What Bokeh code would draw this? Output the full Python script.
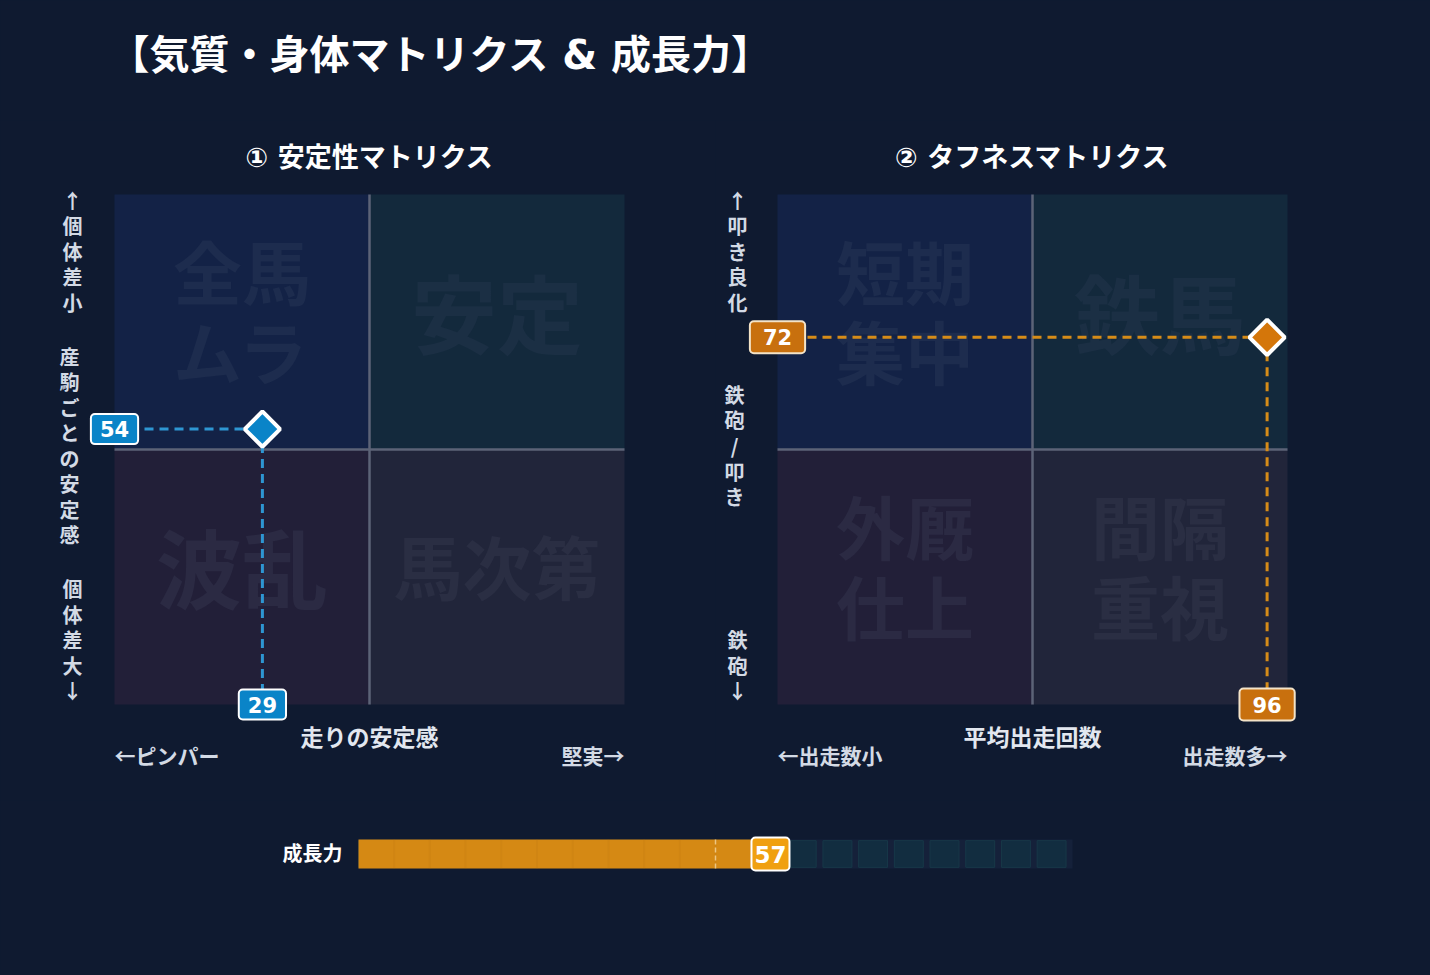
from bokeh.plotting import figure
from bokeh.layouts import column, row
from bokeh.models import Range1d, ColumnDataSource
from bokeh.core.properties import value
from bokeh.embed import file_html
from bokeh.resources import INLINE
import numpy as np

# ---------------- data ----------------
title_text = "【気質・身体マトリクス & 成長力】"
matrix_titles = ["① 安定性マトリクス", "② タフネスマトリクス"]

stab_point = {"x": 29, "y": 54}
tough_point = {"x": 96, "y": 72}

stab_quad_labels = ["全馬\nムラ", "安定", "波乱", "馬次第"]      # TL, TR, BL, BR
tough_quad_labels = ["短期\n集中", "鉄馬", "外厩\n仕上", "間隔\n重視"]

stab_x_labels = ["走りの安定感", "←ピンパー", "堅実→"]
tough_x_labels = ["平均出走回数", "←出走数小", "出走数多→"]
stab_y_labels = ["↑個体差小", "産駒ごとの安定感", "個体差大↓"]
tough_y_labels = ["↑叩き良化", "鉄砲/叩き", "鉄砲↓"]

growth_label = "成長力"
growth_value = 57
growth_avg = 50
growth_segments = 20

# ---------------- style ----------------
BG = "#0f1a30"
FONT = value("DejaVu Sans, 'Noto Sans CJK JP'")
CJK = value("'Noto Sans CJK JP'")
NUM = value("DejaVu Sans")
QUAD_FILL = ["#132246", "#13293c", "#221f38", "#21253a"]
QUAD_TEXT = ["#1d2c4e", "#1b2f44", "#2b2a43", "#2a2e43"]
LABEL_COL = "#d3dae5"
STY = {"background-color": BG, "border": "none", "margin": "0", "padding": "0"}

W_PAGE = 1430
TITLE_H = 120
ROW_H = 680
GROWTH_H = 975 - TITLE_H - ROW_H
PLOT_PX = 510
PLOT_TOP = 74


def base_fig(w, h, xr, yr):
    p = figure(width=w, height=h, x_range=xr, y_range=yr, title=None,
               x_axis_type=None, y_axis_type=None, toolbar_location=None,
               output_backend="svg", min_border=0, outline_line_color=None,
               background_fill_color=BG, border_fill_color=BG, styles=STY)
    return p


def vlabel(s):
    return "\n".join(list(s))


def make_matrix(w, plot_left, sub, point, quad_labels, xlabels, ylabels,
                mark_fill, guide_col, box_fill, box_border, box_pad, ylab_dx):
    k = PLOT_PX / 100.0
    xr = Range1d(-plot_left / k, (w - plot_left) / k)
    yr = Range1d(-(ROW_H - PLOT_TOP - PLOT_PX) / k, 100 + PLOT_TOP / k)
    p = base_fig(w, ROW_H, xr, yr)

    qs = ColumnDataSource(dict(
        left=[0, 50, 0, 50], right=[50, 100, 50, 100],
        bottom=[50, 50, 0, 0], top=[100, 100, 50, 50],
        fill=QUAD_FILL, cx=[25, 75, 25, 75], cy=[75, 75, 25, 25],
        label=quad_labels, tcol=QUAD_TEXT,
        size=["69px" if ("\n" in l or len(l) > 2) else "86px" for l in quad_labels],
    ))
    p.quad(left="left", right="right", bottom="bottom", top="top",
           fill_color="fill", line_color=None, source=qs)
    p.text(x="cx", y="cy", text="label", text_color="tcol", text_font=CJK,
           text_font_style="bold", text_font_size="size", text_align="center",
           text_baseline="middle", text_line_height=0.8, y_offset=-12, source=qs)

    # mid lines
    p.segment(x0=[50, 0], y0=[0, 50], x1=[50, 100], y1=[100, 50],
              line_color="#5c6377", line_width=2.5)

    px, py = point["x"], point["y"]
    # guides
    p.segment(x0=[0, px], y0=[py, py], x1=[px, px], y1=[py, 0],
              line_color=guide_col, line_width=3, line_dash="9 6")
    p.scatter(x=[px], y=[py], marker="square", angle=np.pi / 4, size=25,
              fill_color=mark_fill, line_color="white", line_width=4)

    # value boxes
    p.text(x=[0, px], y=[py, 0], text=[str(py), str(px)], text_align="center",
           text_baseline="middle", text_font=NUM, text_font_style="bold",
           text_font_size="21px", text_color="white",
           background_fill_color=box_fill, border_line_color=box_border,
           border_line_width=2, border_radius=4, padding=box_pad)

    # subtitle
    p.text(x=[50], y=[100], text=[sub], y_offset=-37, text_align="center",
           text_baseline="middle", text_font=FONT, text_font_style="bold",
           text_font_size="27px", text_color="white")

    # x labels
    p.text(x=[50], y=[0], text=[xlabels[0]], y_offset=31, text_align="center",
           text_baseline="middle", text_font=CJK, text_font_style="bold",
           text_font_size="23px", text_color="#e2e7ef")
    p.text(x=[0, 100], y=[0, 0], text=xlabels[1:], y_offset=50,
           text_align=["left", "right"], text_baseline="middle", text_font=CJK,
           text_font_style="bold", text_font_size="21px", text_color=LABEL_COL)

    # y labels (stacked vertical)
    common = dict(text_align="center", text_font=CJK, text_font_style="bold",
                  text_font_size="20px", text_color=LABEL_COL, text_line_height=0.88)
    p.text(x=[0], y=[100], text=[vlabel(ylabels[0])], x_offset=ylab_dx,
           y_offset=-9, text_baseline="top", **common)
    p.text(x=[0], y=[50], text=[vlabel(ylabels[1])], x_offset=ylab_dx - 3,
           y_offset=-4, text_baseline="middle", **common)
    p.text(x=[0], y=[0], text=[vlabel(ylabels[2])], x_offset=ylab_dx,
           y_offset=1, text_baseline="bottom", **common)
    return p


# ---------------- title ----------------
pt = base_fig(W_PAGE, TITLE_H, Range1d(0, W_PAGE), Range1d(TITLE_H, 0))
pt.text(x=[109], y=[54], text=[title_text], text_align="left",
        text_baseline="middle", text_font=FONT, text_font_style="bold",
        text_font_size="40px", text_color="white")

# ---------------- matrices ----------------
left = make_matrix(715, 114, matrix_titles[0], stab_point, stab_quad_labels,
                   stab_x_labels, stab_y_labels, "#0a84c8", "#2e96d2",
                   "#0a84c8", "#ffffff", (9, 7), -42)
right = make_matrix(715, 62, matrix_titles[1], tough_point, tough_quad_labels,
                    tough_x_labels, tough_y_labels, "#d4760a", "#d68c18",
                    "#c8700e", "#f3e3c8", (13, 8), -40)

# ---------------- growth bar ----------------
GX0, GX1 = 358, 1072
kx = (GX1 - GX0) / 100.0
BAR_H = 29
BAR_CY = 53.5
gxr = Range1d(-GX0 / kx, (W_PAGE - GX0) / kx)
gyr = Range1d(-(GROWTH_H - BAR_CY) / BAR_H, BAR_CY / BAR_H)
pg = base_fig(W_PAGE, GROWTH_H, gxr, gyr)

seg_w = 100.0 / growth_segments
seg_left = np.arange(growth_segments) * seg_w
pg.quad(left=[0], right=[100], bottom=[-0.5], top=[0.5], fill_color="#15213a",
        line_color=None)
pg.quad(left=seg_left + 0.05, right=seg_left + seg_w * 0.82, bottom=-0.46, top=0.46,
        fill_color="#122d40", line_color="#173848", line_width=1)
pg.quad(left=[0], right=[growth_value], bottom=[-0.5], top=[0.5],
        fill_color="#d58914", line_color=None)
inner = seg_left[(seg_left > 0) & (seg_left < growth_value)]
pg.segment(x0=inner, y0=-0.5, x1=inner, y1=0.5, line_color="#b8740c",
           line_alpha=0.15, line_width=2)
pg.segment(x0=[growth_avg], y0=[-0.5], x1=[growth_avg], y1=[0.5],
           line_color="#f7dca8", line_alpha=0.75, line_width=1.5, line_dash="5 3")
pg.text(x=[growth_value], y=[0], text=[str(growth_value)], x_offset=5,
        text_align="center", text_baseline="middle", text_font=NUM,
        text_font_style="bold", text_font_size="23px", text_color="white",
        background_fill_color="#f0a010", border_line_color="white",
        border_line_width=2, border_radius=4, padding=(3, 8))
pg.text(x=[0], y=[0], text=[growth_label], x_offset=-16, text_align="right",
        text_baseline="middle", text_font=FONT, text_font_style="bold",
        text_font_size="20px", text_color="white")

layout = column(pt, row(left, right, spacing=0, styles=STY), pg, spacing=0, styles=STY)
open("out.html", "w").write(file_html(layout, INLINE))
